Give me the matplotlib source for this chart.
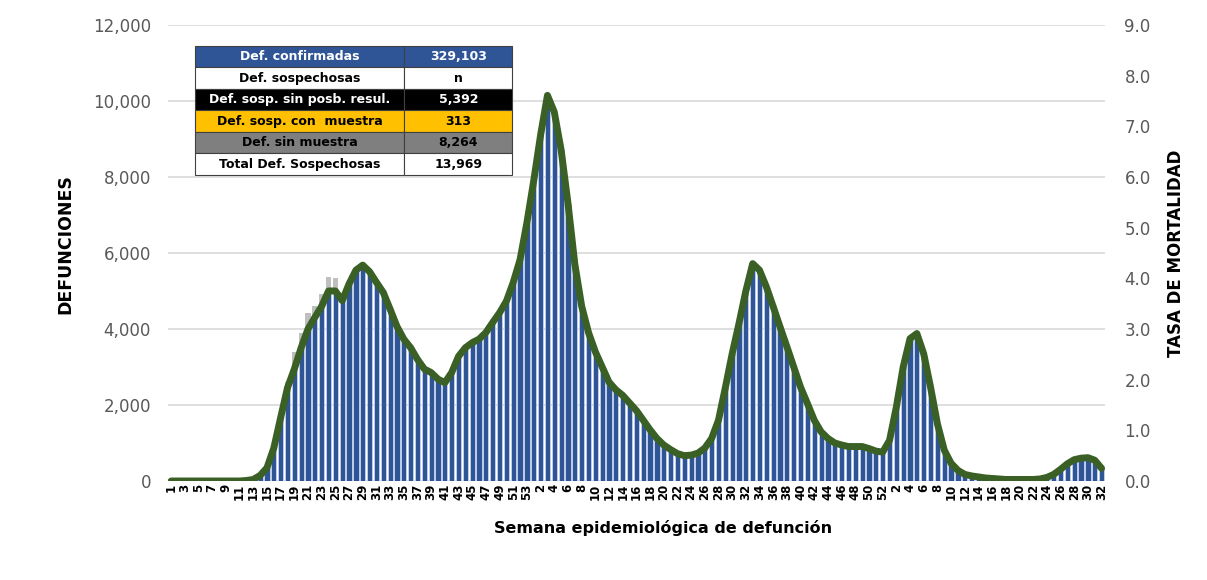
import numpy as np
import matplotlib
matplotlib.use('Agg')
import matplotlib.pyplot as plt

# weekly deaths (confirmed): 2020 w1-53, 2021 w1-52, 2022 w1-32
deaths_2020 = [0, 0, 0, 0, 0, 0, 0, 0, 0, 0, 0, 10, 40, 150, 340, 870, 1660, 2450, 2950, 3500,
               4000, 4300, 4600, 5000, 5000, 4740, 5180, 5550, 5680, 5500, 5230, 4960, 4520, 4070,
               3730, 3510, 3200, 2940, 2850, 2680, 2590, 2850, 3280, 3510, 3640, 3730, 3900, 4170,
               4430, 4730, 5220, 5830, 6800]
deaths_2021 = [7900, 9100, 10150, 9700, 8700, 7300, 5700, 4600, 3900, 3400, 3000, 2600, 2400,
               2250, 2050, 1850, 1600, 1350, 1120, 940, 820, 720, 670, 680, 730, 860, 1120, 1600,
               2450, 3350, 4150, 5000, 5720, 5540, 5110, 4580, 4050, 3530, 3000, 2470, 2040, 1600,
               1290, 1120, 1000, 940, 910, 910, 900, 850, 790, 760]
deaths_2022 = [1070, 1950, 3000, 3750, 3880, 3350, 2470, 1510, 810, 460, 280, 170, 130, 105, 80,
               60, 50, 45, 40, 40, 40, 40, 50, 90, 170, 300, 450, 560, 600, 610, 540, 330]

# suspected deaths stacked on top (grey), only visible in 2020
suspect_2020 = [0] * 17 + [150, 450, 400, 420, 300, 320, 380, 330] + [0] * 28

# mortality rate (right axis)
rate_2020 = [0.0] * 11 + [0.01, 0.03, 0.11, 0.26, 0.65, 1.25, 1.84, 2.21, 2.63, 3.00, 3.23, 3.45,
             3.75, 3.75, 3.56, 3.89, 4.16, 4.26, 4.13, 3.92, 3.72, 3.39, 3.05, 2.80, 2.63, 2.40,
             2.21, 2.14, 2.01, 1.94, 2.14, 2.46, 2.63, 2.73, 2.80, 2.93, 3.13, 3.32, 3.55, 3.92,
             4.37, 5.10]
rate_2021 = [5.93, 6.83, 7.61, 7.28, 6.53, 5.48, 4.28, 3.45, 2.93, 2.55, 2.25, 1.95, 1.80, 1.69,
             1.54, 1.39, 1.20, 1.01, 0.84, 0.71, 0.62, 0.54, 0.50, 0.51, 0.55, 0.65, 0.84, 1.20,
             1.84, 2.51, 3.11, 3.75, 4.29, 4.16, 3.83, 3.44, 3.04, 2.65, 2.25, 1.85, 1.53, 1.20,
             0.97, 0.84, 0.75, 0.71, 0.68, 0.68, 0.68, 0.64, 0.59, 0.57]
rate_2022 = [0.80, 1.46, 2.25, 2.81, 2.91, 2.51, 1.85, 1.13, 0.61, 0.35, 0.21, 0.13, 0.10, 0.08,
             0.06, 0.05, 0.04, 0.03, 0.03, 0.03, 0.03, 0.03, 0.04, 0.07, 0.13, 0.23, 0.34, 0.42,
             0.45, 0.46, 0.41, 0.25]

week_labels = list(range(1, 54)) + list(range(1, 53)) + list(range(1, 33))

table_rows = ['Def. confirmadas', 'Def. sospechosas', 'Def. sosp. sin posb. resul.',
              'Def. sosp. con  muestra', 'Def. sin muestra', 'Total Def. Sospechosas']
table_vals = ['329,103', 'n', '5,392', '313', '8,264', '13,969']
row_bg = ['#2F5597', 'white', 'black', '#FFC000', '#7F7F7F', 'white']
row_fg = ['white', 'black', 'white', 'black', 'black', 'black']

deaths = np.array(deaths_2020 + deaths_2021 + deaths_2022)
suspect = np.array(suspect_2020 + [0] * (len(deaths_2021) + len(deaths_2022)))
rate = np.array(rate_2020 + rate_2021 + rate_2022)
x = np.arange(len(deaths))

plt.rcParams['font.family'] = ['DejaVu Sans']
fig = plt.figure(figsize=(12.07, 5.80), dpi=100)
ax = fig.add_axes([0.139, 0.1707, 0.7765, 0.7863])

ax.bar(x, deaths, width=0.76, color='#2F5597', edgecolor='#C5D5EE', linewidth=0.6, zorder=2)
ax.bar(x, suspect, bottom=deaths, width=0.76, color='#BFBFBF', linewidth=0, zorder=2)

ax.set_xlim(-0.5, len(x) - 0.5)
ax.set_ylim(0, 12000)
ax.set_yticks(np.arange(0, 12001, 2000))
ax.set_yticklabels([f'{v:,}' for v in range(0, 12001, 2000)], fontsize=12, color='#595959')
ax.grid(axis='y', color='#D9D9D9', linewidth=1.2, zorder=0)
ax.set_axisbelow(True)
for s in ax.spines.values():
    s.set_visible(False)
ax.tick_params(axis='both', length=0)
ax.tick_params(axis='y', pad=12)

ax.set_xticks(x[::2])
ax.set_xticklabels([str(w) for w in week_labels[::2]], rotation=90, fontsize=8.5,
                   fontweight='bold', color='black')
ax.tick_params(axis='x', pad=2)

ax.set_ylabel('DEFUNCIONES', fontsize=12.5, fontweight='bold')
ax.yaxis.set_label_coords(-0.1, 0.52)
ax.set_xlabel('Semana epidemiológica de defunción', fontsize=11.5, fontweight='bold')
ax.xaxis.set_label_coords(0.528, -0.085)

ax2 = ax.twinx()
ax2.plot(x, rate, color='#3A6025', linewidth=5, solid_capstyle='round',
         solid_joinstyle='round', zorder=3)
ax2.set_ylim(0, 9)
ax2.set_yticks(np.arange(0, 9.1, 1))
ax2.set_yticklabels([f'{v:.1f}' for v in np.arange(0, 9.1, 1)], fontsize=12, color='#595959')
for s in ax2.spines.values():
    s.set_visible(False)
ax2.tick_params(axis='y', length=0, pad=14)
ax2.set_ylabel('TASA DE MORTALIDAD', fontsize=12, fontweight='bold')
ax2.yaxis.set_label_coords(1.066, 0.5)

# summary table in the upper left corner
tab = ax2.table(cellText=[[r, v] for r, v in zip(table_rows, table_vals)],
                cellLoc='center', colWidths=[0.66, 0.34],
                bbox=[0.0288, 0.671, 0.339, 0.283], zorder=5)
tab.auto_set_font_size(False)
for (r, c), cell in tab.get_celld().items():
    cell.set_facecolor(row_bg[r])
    cell.set_edgecolor('#404040')
    cell.set_linewidth(0.8)
    cell.get_text().set_color(row_fg[r])
    cell.get_text().set_fontsize(9)
    cell.get_text().set_fontweight('bold')

fig.savefig('out.png', dpi=100)
